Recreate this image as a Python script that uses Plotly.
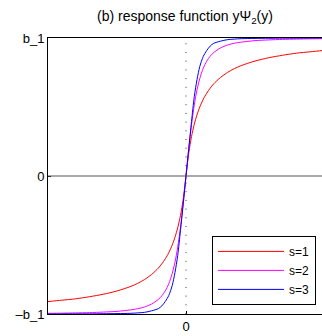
import plotly.graph_objects as go

# sample positions (arbitrary units, symmetric)
x_vals = [-10, -9, -8, -7, -6, -5, -4, -3.5, -3, -2.5, -2, -1.75, -1.5, -1.25, -1, -0.8, -0.6, -0.4, -0.2, 0,
          0.2, 0.4, 0.6, 0.8, 1, 1.25, 1.5, 1.75, 2, 2.5, 3, 3.5, 4, 5, 6, 7, 8, 9, 10]

# values (in units of b_1)
s1_vals = [-0.91, -0.90, -0.89, -0.875, -0.857, -0.833, -0.80, -0.778, -0.75, -0.714, -0.667, -0.636, -0.60, -0.556, -0.50, -0.444, -0.375, -0.286, -0.167, 0.0,
           0.167, 0.286, 0.375, 0.444, 0.50, 0.556, 0.60, 0.636, 0.667, 0.714, 0.75, 0.778, 0.80, 0.833, 0.857, 0.875, 0.89, 0.90, 0.91]
s2_vals = [-0.995, -0.994, -0.992, -0.990, -0.986, -0.981, -0.970, -0.962, -0.949, -0.928, -0.894, -0.868, -0.832, -0.781, -0.707, -0.625, -0.515, -0.371, -0.196, 0.0,
           0.196, 0.371, 0.515, 0.625, 0.707, 0.781, 0.832, 0.868, 0.894, 0.928, 0.949, 0.962, 0.970, 0.981, 0.986, 0.990, 0.992, 0.994, 0.995]
s3_vals = [-1.0, -0.9995, -0.999, -0.999, -0.998, -0.997, -0.995, -0.992, -0.988, -0.977, -0.961, -0.941, -0.909, -0.866, -0.794, -0.70, -0.575, -0.395, -0.20, 0.0,
           0.20, 0.395, 0.575, 0.70, 0.794, 0.866, 0.909, 0.941, 0.961, 0.977, 0.988, 0.992, 0.995, 0.997, 0.998, 0.999, 0.999, 0.9995, 1.0]

series_names = ["s=1", "s=2", "s=3"]
series_colors = ["#ff0000", "#ff00ff", "#0000ff"]

y_tick_vals = [-1, 0, 1]
y_tick_text = ["\u2013b_1", "0", "b_1"]
x_tick_vals = [0]
x_tick_text = ["0"]

title_text = "(b) response function y\u03a8<sub>2</sub>(y)"

fig = go.Figure()
for name, vals, col in zip(series_names, [s1_vals, s2_vals, s3_vals], series_colors):
    fig.add_trace(go.Scatter(x=x_vals, y=vals, mode="lines", name=name,
                             line=dict(color=col, width=1, shape="spline", smoothing=0.8)))

# zero line and dotted vertical line at x=0
fig.add_shape(type="line", xref="paper", x0=0, x1=1, yref="y", y0=0, y1=0,
              line=dict(color="#555555", width=1))
fig.add_shape(type="line", xref="x", x0=0, x1=0, yref="paper", y0=0, y1=1,
              line=dict(color="#333333", width=1, dash="1px,7.7px"))

fig.update_layout(
    width=322, height=336,
    margin=dict(l=48, r=0, t=38, b=22),
    paper_bgcolor="white", plot_bgcolor="white",
    font=dict(family="Liberation Sans, Arial, sans-serif", size=13, color="black"),
    title=dict(text=title_text, x=0.5, xref="paper", xanchor="center",
               y=1 - 16 / 336, yanchor="middle", font=dict(size=14)),
    showlegend=True,
    legend=dict(x=0.978, y=0.033, xanchor="right", yanchor="bottom",
                bordercolor="black", borderwidth=1, bgcolor="white",
                font=dict(size=12), tracegroupgap=0, itemwidth=66),
)
fig.update_xaxes(range=[-10, 9.855], showgrid=False, zeroline=False,
                 showline=True, linecolor="black", linewidth=1, mirror=True,
                 tickvals=x_tick_vals, ticktext=x_tick_text,
                 ticks="inside", ticklen=3, tickcolor="black")
fig.update_yaxes(range=[-1, 1], showgrid=False, zeroline=False,
                 showline=True, linecolor="black", linewidth=1, mirror=False,
                 tickvals=y_tick_vals, ticktext=y_tick_text,
                 ticks="inside", ticklen=3, tickcolor="black")

fig.write_html("out.html", config={"displayModeBar": False},
               post_script="document.body.style.margin='0';")
